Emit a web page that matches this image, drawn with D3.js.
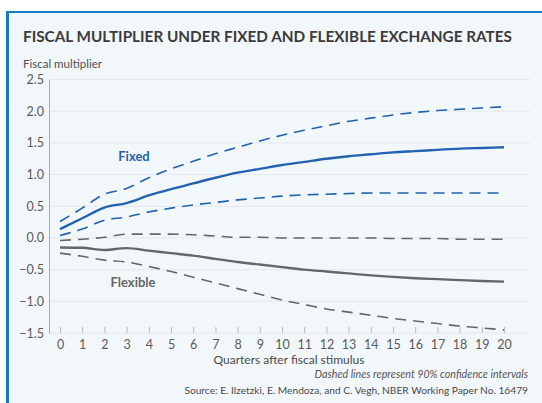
<!DOCTYPE html>
<html>
<head>
<meta charset="utf-8">
<script src="https://cdn.jsdelivr.net/npm/d3@7"></script>
<style>
  body { margin: 0; background: #fff; }
  svg { display: block; font-family: Lato, "Open Sans", sans-serif; }
</style>
</head>
<body>
<svg id="chart" width="542" height="403"></svg>
<script>
// DATA
const quarters = d3.range(0, 21);
const yTicks = [-1.5, -1.0, -0.5, 0.0, 0.5, 1.0, 1.5, 2.0, 2.5];

const fixedMid = [0.14, 0.31, 0.48, 0.55, 0.67, 0.77, 0.86, 0.95, 1.03, 1.09, 1.15, 1.2, 1.25, 1.29, 1.32, 1.35, 1.37, 1.39, 1.41, 1.42, 1.43];
const fixedHi = [0.26, 0.47, 0.69, 0.78, 0.95, 1.09, 1.21, 1.33, 1.43, 1.53, 1.62, 1.7, 1.77, 1.84, 1.89, 1.94, 1.98, 2.01, 2.03, 2.05, 2.07];
const fixedLo = [0.04, 0.14, 0.28, 0.33, 0.41, 0.47, 0.52, 0.56, 0.6, 0.63, 0.66, 0.68, 0.69, 0.7, 0.71, 0.71, 0.71, 0.71, 0.71, 0.71, 0.71];
const flexMid = [-0.15, -0.155, -0.19, -0.16, -0.2, -0.24, -0.28, -0.33, -0.38, -0.42, -0.46, -0.5, -0.53, -0.56, -0.59, -0.615, -0.635, -0.65, -0.665, -0.68, -0.69];
const flexHi = [-0.04, -0.02, 0.01, 0.06, 0.06, 0.06, 0.05, 0.03, 0.01, 0.01, 0.0, 0.0, 0.0, 0.0, 0.0, -0.01, -0.01, -0.01, -0.02, -0.02, -0.02];
const flexLo = [-0.24, -0.29, -0.35, -0.38, -0.45, -0.53, -0.62, -0.71, -0.8, -0.89, -0.98, -1.05, -1.12, -1.17, -1.22, -1.27, -1.31, -1.35, -1.39, -1.42, -1.45];

const BLUE = "#2262ae", GRAY = "#666666";

const svg = d3.select("#chart");

// panel + border
svg.append("rect").attr("x", 6).attr("y", 11).attr("width", 540).attr("height", 400).attr("fill", "#f2f7fc");
svg.append("rect").attr("x", 6).attr("y", 11).attr("width", 540).attr("height", 2).attr("fill", "#1b7ac4");
svg.append("rect").attr("x", 6).attr("y", 11).attr("width", 3).attr("height", 400).attr("fill", "#1b7ac4");

// titles
svg.append("text").attr("x", 23).attr("y", 42)
  .attr("font-size", 15.3).attr("font-weight", 700).attr("fill", "#3b3b3b")
  .text("FISCAL MULTIPLIER UNDER FIXED AND FLEXIBLE EXCHANGE RATES");

svg.append("text").attr("x", 23).attr("y", 68)
  .attr("font-size", 11.5).attr("fill", "#505050")
  .text("Fiscal multiplier");

// SCALES
const x = d3.scaleLinear().domain([0, 20]).range([60, 504]);
const y = d3.scaleLinear().domain([-1.5, 2.5]).range([333, 79.5]);
const left = 49, right = 530;

// gridlines
svg.append("g").selectAll("line").data(yTicks).join("line")
  .attr("x1", left).attr("x2", right)
  .attr("y1", d => y(d)).attr("y2", d => y(d))
  .attr("stroke", "#e2e8ef").attr("stroke-width", 1);

// y axis
const gy = svg.append("g").attr("transform", `translate(${left},0)`)
  .call(d3.axisLeft(y).tickValues(yTicks).tickFormat(d3.format(".1f")).tickSize(0).tickPadding(5));
gy.select(".domain").attr("stroke", "#aaaaaa");
gy.selectAll("text").attr("font-size", 12.5).attr("fill", "#5a5a5a").attr("font-family", "Lato, sans-serif");

// x axis (ticks pointing up from bottom gridline)
const gx = svg.append("g").attr("transform", `translate(0,${y(-1.5)})`)
  .call(d3.axisTop(x).tickValues(quarters).tickFormat(d3.format("d")).tickSize(6));
gx.select(".domain").remove();
gx.selectAll("line").attr("stroke", "#bbbbbb");
gx.selectAll("text").attr("y", 12).attr("dy", "0.35em")
  .attr("font-size", 12.5).attr("fill", "#5a5a5a").attr("font-family", "Lato, sans-serif");

// LINES
const line = d3.line().x((d, i) => x(quarters[i])).y(d => y(d)).curve(d3.curveMonotoneX);
const series = [
  { v: flexHi, c: GRAY, dash: "11,7", w: 1.6 },
  { v: flexLo, c: GRAY, dash: "11,7", w: 1.6 },
  { v: flexMid, c: GRAY, dash: null, w: 2.4 },
  { v: fixedHi, c: BLUE, dash: "11,7", w: 1.6 },
  { v: fixedLo, c: BLUE, dash: "11,7", w: 1.6 },
  { v: fixedMid, c: BLUE, dash: null, w: 2.4 },
];
svg.append("g").selectAll("path").data(series).join("path")
  .attr("d", d => line(d.v))
  .attr("fill", "none")
  .attr("stroke", d => d.c)
  .attr("stroke-width", d => d.w)
  .attr("stroke-dasharray", d => d.dash);

// series labels
svg.append("text").attr("x", 134).attr("y", 161).attr("text-anchor", "middle")
  .attr("font-size", 13).attr("font-weight", 700).attr("fill", BLUE).text("Fixed");
svg.append("text").attr("x", 133).attr("y", 287).attr("text-anchor", "middle")
  .attr("font-size", 13).attr("font-weight", 700).attr("fill", GRAY).text("Flexible");

// axis title + notes
svg.append("text").attr("x", 289).attr("y", 364).attr("text-anchor", "middle")
  .attr("font-size", 12).attr("fill", "#4a4a4a")
  .text("Quarters after fiscal stimulus");
svg.append("text").attr("x", 528).attr("y", 378).attr("text-anchor", "end")
  .attr("font-size", 10.7).attr("font-style", "italic").attr("fill", "#555")
  .text("Dashed lines represent 90% confidence intervals");
svg.append("text").attr("x", 528).attr("y", 394).attr("text-anchor", "end")
  .attr("font-size", 10.2).attr("fill", "#4a4a4a")
  .text("Source: E. Ilzetzki, E. Mendoza, and C. Vegh, NBER Working Paper No. 16479");
</script>
</body>
</html>
